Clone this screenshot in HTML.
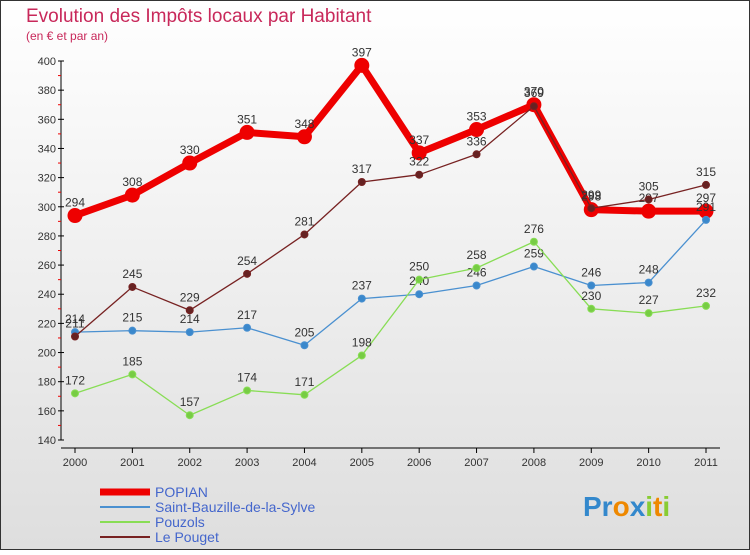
<!DOCTYPE html>
<html><head><meta charset="utf-8"><style>
body{margin:0;width:750px;height:550px;overflow:hidden;font-family:"Liberation Sans",sans-serif}
</style></head><body>
<svg width="750" height="550" xmlns="http://www.w3.org/2000/svg" font-family="Liberation Sans, sans-serif">
<defs><linearGradient id="bg" x1="0" y1="0" x2="0" y2="1"><stop offset="0" stop-color="#ffffff"/><stop offset="1" stop-color="#dedede"/></linearGradient></defs>
<rect x="0.5" y="0.5" width="749" height="549" fill="url(#bg)" stroke="#333"/>
<text x="26" y="22" font-size="19" fill="#c8285a">Evolution des Impôts locaux par Habitant</text>
<text x="26" y="40" font-size="12" fill="#c8285a">(en € et par an)</text>
<g id="axes"></g>
<g id="series"></g>
<g>
<line x1="100" y1="492" x2="150" y2="492" stroke="#ee0000" stroke-width="7"/>
<text x="155" y="497" font-size="14" fill="#4466cc">POPIAN</text>
<line x1="100" y1="507" x2="150" y2="507" stroke="#4a90d0" stroke-width="2"/>
<text x="155" y="512" font-size="14" fill="#4466cc">Saint-Bauzille-de-la-Sylve</text>
<line x1="100" y1="522" x2="150" y2="522" stroke="#88dd55" stroke-width="2"/>
<text x="155" y="527" font-size="14" fill="#4466cc">Pouzols</text>
<line x1="100" y1="537" x2="150" y2="537" stroke="#772222" stroke-width="2"/>
<text x="155" y="542" font-size="14" fill="#4466cc">Le Pouget</text>
</g>
<text x="583" y="516" font-size="28" font-weight="bold"><tspan fill="#3388cc">Pr</tspan><tspan fill="#ee8800">o</tspan><tspan fill="#3388cc">x</tspan><tspan fill="#88cc33">i</tspan><tspan fill="#ee8800">t</tspan><tspan fill="#88cc33">i</tspan></text>
</svg>
<script>
const years=[2000,2001,2002,2003,2004,2005,2006,2007,2008,2009,2010,2011];
const yTicks=[140,160,180,200,220,240,260,280,300,320,340,360,380,400];
const popian=[294,308,330,351,348,397,337,353,370,298,297,297];
const stBauzille=[214,215,214,217,205,237,240,246,259,246,248,291];
const pouzols=[172,185,157,174,171,198,250,258,276,230,227,232];
const lePouget=[211,245,229,254,281,317,322,336,369,299,305,315];
const NS="http://www.w3.org/2000/svg";
const X=i=>75+i*(706-75)/11;
const Y=v=>61+(400-v)*(440-61)/260;
function mk(tag,attrs,parent){const e=document.createElementNS(NS,tag);for(const k in attrs)e.setAttribute(k,attrs[k]);parent.appendChild(e);return e;}
const ax=document.getElementById('axes');
const yl=mk('line',{x1:61,y1:Y(400),x2:61,y2:Y(140),stroke:'#000'},ax);


const xl=mk('line',{x1:61,y1:Y(140)+8,x2:720,y2:Y(140)+8,stroke:'#000'},ax);


yTicks.forEach((t,i)=>{
  mk('line',{x1:58,y1:Y(t),x2:64,y2:Y(t),stroke:'#000'},ax);
  if(i<yTicks.length-1)mk('line',{x1:58,y1:(Y(t)+Y(yTicks[i+1]))/2,x2:61,y2:(Y(t)+Y(yTicks[i+1]))/2,stroke:'#e00'},ax);
  const tx=mk('text',{x:56,y:Y(t)+4,'font-size':11,'text-anchor':'end',fill:'#333'},ax);
  tx.textContent=t;
  
  
});
years.forEach((yr,i)=>{
  mk('line',{x1:X(i),y1:Y(140)+8,x2:X(i),y2:Y(140)+13,stroke:'#000'},ax);
  const tx=mk('text',{x:X(i),y:Y(140)+26,'font-size':11,'text-anchor':'middle',fill:'#333'},ax);
  tx.textContent=yr;
  
  
});
const sg=document.getElementById('series');
function draw(vals,name,color,w,r,dot){
  const g=mk('g',{},sg);
  
  
  mk('polyline',{points:vals.map((v,i)=>X(i)+','+Y(v)).join(' '),fill:'none',stroke:color,'stroke-width':w,'stroke-linejoin':'round'},g);
  vals.forEach((v,i)=>{
    const c=mk('circle',{cx:X(i),cy:Y(v),r:r,fill:dot,stroke:color,'stroke-width':1},g);
    
    
    const t=mk('text',{x:X(i),y:Y(v)-9,'font-size':12,'text-anchor':'middle',fill:'#333'},g);
    t.textContent=v;
    
    
  });
}
draw(popian,'popian-series','#ee0000',7,7,'#ee0000');
draw(stBauzille,'saint-bauzille-series','#4a90d0',1.3,3.5,'#3a88cc');
draw(pouzols,'pouzols-series','#88dd55',1.3,3.5,'#77cc44');
draw(lePouget,'le-pouget-series','#772222',1.3,3.5,'#662222');
</script>
</body></html>
